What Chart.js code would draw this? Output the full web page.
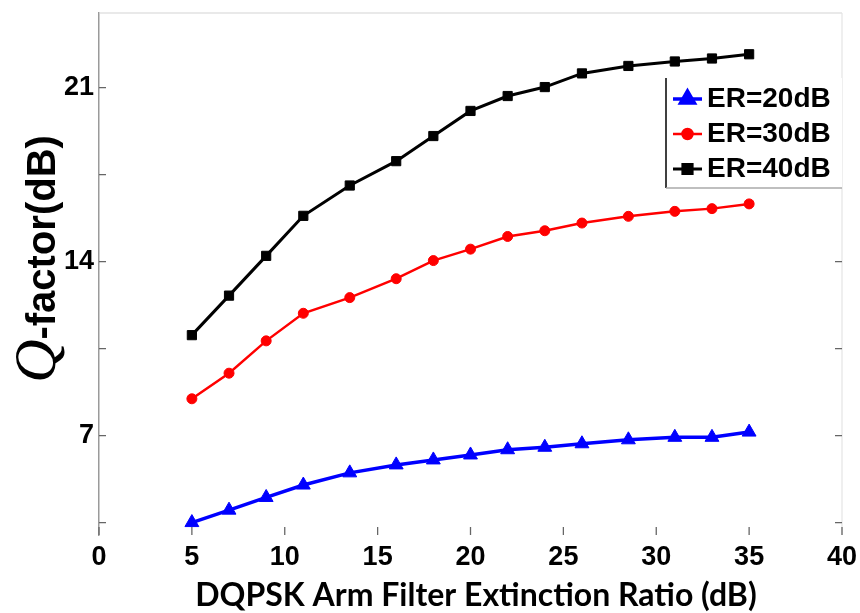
<!DOCTYPE html>
<html>
<head>
<meta charset="utf-8">
<title>Q-factor vs DQPSK arm filter extinction ratio</title>
<script src="https://cdn.jsdelivr.net/npm/chart.js@4.4.1/dist/chart.umd.min.js"></script>
<style>
  html, body { margin: 0; padding: 0; background: #fff; }
  #wrap { width: 860px; height: 613px; }
</style>
</head>
<body>
<div id="wrap"><canvas id="qChart" width="860" height="613"></canvas></div>
<script>
// DQPSK arm filter extinction ratio (dB)
const erSteps = [5, 7, 9, 11, 13.5, 16, 18, 20, 22, 24, 26, 28.5, 31, 33, 35];

// Q-factor (dB), one list per transmitter extinction ratio
const qEr20 = [3.5, 4.0, 4.51, 5.01, 5.5, 5.82, 6.02, 6.22, 6.43, 6.53, 6.67, 6.83, 6.93, 6.93, 7.14];
const qEr30 = [8.48, 9.51, 10.81, 11.92, 12.55, 13.31, 14.04, 14.5, 15.01, 15.24, 15.55, 15.82, 16.02, 16.13, 16.32];
const qEr40 = [11.04, 12.63, 14.23, 15.84, 17.06, 18.04, 19.05, 20.06, 20.66, 21.02, 21.57, 21.87, 22.05, 22.17, 22.34];

const seriesNames = ['ER=20dB', 'ER=30dB', 'ER=40dB'];

// tick positions
const xTicks = [0, 5, 10, 15, 20, 25, 30, 35, 40];
const yTicks = [3.5, 7, 10.5, 14, 17.5, 21];
const yLabelled = [7, 14, 21];

const toPoints = (ys) => erSteps.map((x, i) => ({ x: x, y: ys[i] }));

// top/right frame and MATLAB-style inward tick marks
const frameTicks = {
  id: 'frameTicks',
  beforeDatasetsDraw(chart) {
    const { ctx, chartArea: a, scales: { x, y } } = chart;
    ctx.save();
    ctx.lineWidth = 1.2;
    ctx.strokeStyle = '#d4d4d4';
    ctx.beginPath();
    ctx.moveTo(a.left, a.top);
    ctx.lineTo(a.right, a.top);
    ctx.stroke();
    ctx.strokeStyle = '#e4e4e4';
    ctx.beginPath();
    ctx.moveTo(a.right, a.top);
    ctx.lineTo(a.right, a.bottom);
    ctx.stroke();

    ctx.strokeStyle = '#666';
    ctx.lineWidth = 1.3;
    x.ticks.forEach(t => {
      const px = x.getPixelForValue(t.value);
      ctx.beginPath();
      ctx.moveTo(px, a.bottom);
      ctx.lineTo(px, a.bottom - 8);
      ctx.stroke();
    });
    y.ticks.forEach(t => {
      const py = y.getPixelForValue(t.value);
      ctx.beginPath();
      ctx.moveTo(a.left, py);
      ctx.lineTo(a.left + 7, py);
      ctx.moveTo(a.right, py);
      ctx.lineTo(a.right - 7, py);
      ctx.stroke();
    });
    ctx.restore();
  }
};

// axis titles (the y title mixes an italic serif Q with bold sans text)
const axisTitles = {
  id: 'axisTitles',
  afterDraw(chart) {
    const ctx = chart.ctx;
    ctx.save();
    ctx.fillStyle = '#000';
    ctx.textAlign = 'center';
    ctx.textBaseline = 'middle';
    ctx.font = 'bold 32px Lato';
    ctx.fillText('DQPSK Arm Filter Extinction Ratio (dB)', 476, 596);

    ctx.translate(55, 259);
    ctx.rotate(-Math.PI / 2);
    ctx.textAlign = 'left';
    ctx.textBaseline = 'alphabetic';
    ctx.font = 'italic 60px "Liberation Serif"';
    const qW = ctx.measureText('Q').width;
    ctx.font = 'bold 40px "Liberation Sans"';
    const restW = ctx.measureText('-factor(dB)').width;
    const start = -(qW + restW) / 2;
    ctx.font = 'italic 60px "Liberation Serif"';
    ctx.fillText('Q', start, 0);
    ctx.font = 'bold 40px "Liberation Sans"';
    ctx.fillText('-factor(dB)', start + qW, 0);
    ctx.restore();
  }
};

// legend inside the plot, top right
const innerLegend = {
  id: 'innerLegend',
  afterDatasetsDraw(chart) {
    const ctx = chart.ctx;
    const left = 666, top = 78, right = chart.chartArea.right, bottom = 188;
    ctx.save();
    ctx.fillStyle = '#fff';
    ctx.fillRect(left, top, right - left, bottom - top);
    ctx.strokeStyle = '#000';
    ctx.lineWidth = 1.5;
    ctx.beginPath();
    ctx.moveTo(left, top);
    ctx.lineTo(left, bottom);
    ctx.stroke();
    ctx.strokeStyle = '#aaa';
    ctx.beginPath();
    ctx.moveTo(left, bottom);
    ctx.lineTo(right, bottom);
    ctx.stroke();

    const rowY = [99, 134, 169];
    chart.data.datasets.forEach((ds, i) => {
      const yy = rowY[i];
      ctx.strokeStyle = ds.borderColor;
      ctx.lineWidth = ds.borderWidth;
      ctx.beginPath();
      ctx.moveTo(673, yy);
      ctx.lineTo(702, yy);
      ctx.stroke();
      Chart.helpers.drawPoint(ctx, {
        pointStyle: ds.pointStyle,
        radius: ds.pointRadius,
        borderWidth: ds.pointBorderWidth,
        rotation: 0
      }, 687.5, yy);
      ctx.fillStyle = ds.pointBackgroundColor;
      ctx.strokeStyle = ds.pointBorderColor;
      ctx.lineWidth = ds.pointBorderWidth;
      ctx.fill();
      ctx.stroke();

      ctx.fillStyle = '#000';
      ctx.font = 'bold 28px "Liberation Sans"';
      ctx.textAlign = 'left';
      ctx.textBaseline = 'middle';
      ctx.fillText(ds.label, 707, yy);
    });
    ctx.restore();
  }
};

const seriesStyle = (color, shape, radius, width) => ({
  borderColor: color,
  backgroundColor: color,
  borderWidth: width,
  pointStyle: shape,
  pointRadius: radius,
  pointBackgroundColor: color,
  pointBorderColor: color,
  pointBorderWidth: 1,
  tension: 0
});

new Chart(document.getElementById('qChart'), {
  type: 'line',
  data: {
    datasets: [
      { label: seriesNames[0], data: toPoints(qEr20), ...seriesStyle('#0000ff', 'triangle', 8, 3.5) },
      { label: seriesNames[1], data: toPoints(qEr30), ...seriesStyle('#ff0000', 'circle', 5, 2.5) },
      { label: seriesNames[2], data: toPoints(qEr40), ...seriesStyle('#000000', 'rect', 6.5, 3) }
    ]
  },
  options: {
    responsive: false,
    animation: false,
    layout: { padding: { top: 13, right: 18, left: 0, bottom: 0 } },
    plugins: {
      legend: { display: false },
      tooltip: { enabled: false }
    },
    scales: {
      x: {
        type: 'linear',
        min: 0,
        max: 40,
        afterBuildTicks: (scale) => { scale.ticks = xTicks.map(v => ({ value: v })); },
        afterFit: (scale) => { scale.height = 78; scale.paddingLeft = 0; scale.paddingRight = 0; },
        grid: { display: false, drawTicks: false },
        border: { display: false },
        ticks: {
          padding: 6,
          color: '#000',
          font: { family: '"Liberation Sans"', size: 27, weight: 'bold' },
          maxRotation: 0
        }
      },
      y: {
        type: 'linear',
        min: 3,
        max: 24,
        afterBuildTicks: (scale) => { scale.ticks = yTicks.map(v => ({ value: v })); },
        afterFit: (scale) => { scale.width = 99; scale.paddingTop = 0; scale.paddingBottom = 0; },
        grid: { display: false, drawTicks: false },
        border: { display: true, color: '#9a9a9a', width: 1.5 },
        ticks: {
          padding: 5,
          color: '#000',
          font: { family: '"Liberation Sans"', size: 27, weight: 'bold' },
          callback: (v) => yLabelled.includes(v) ? String(v) : ''
        }
      }
    }
  },
  plugins: [frameTicks, axisTitles, innerLegend]
});
</script>
</body>
</html>
